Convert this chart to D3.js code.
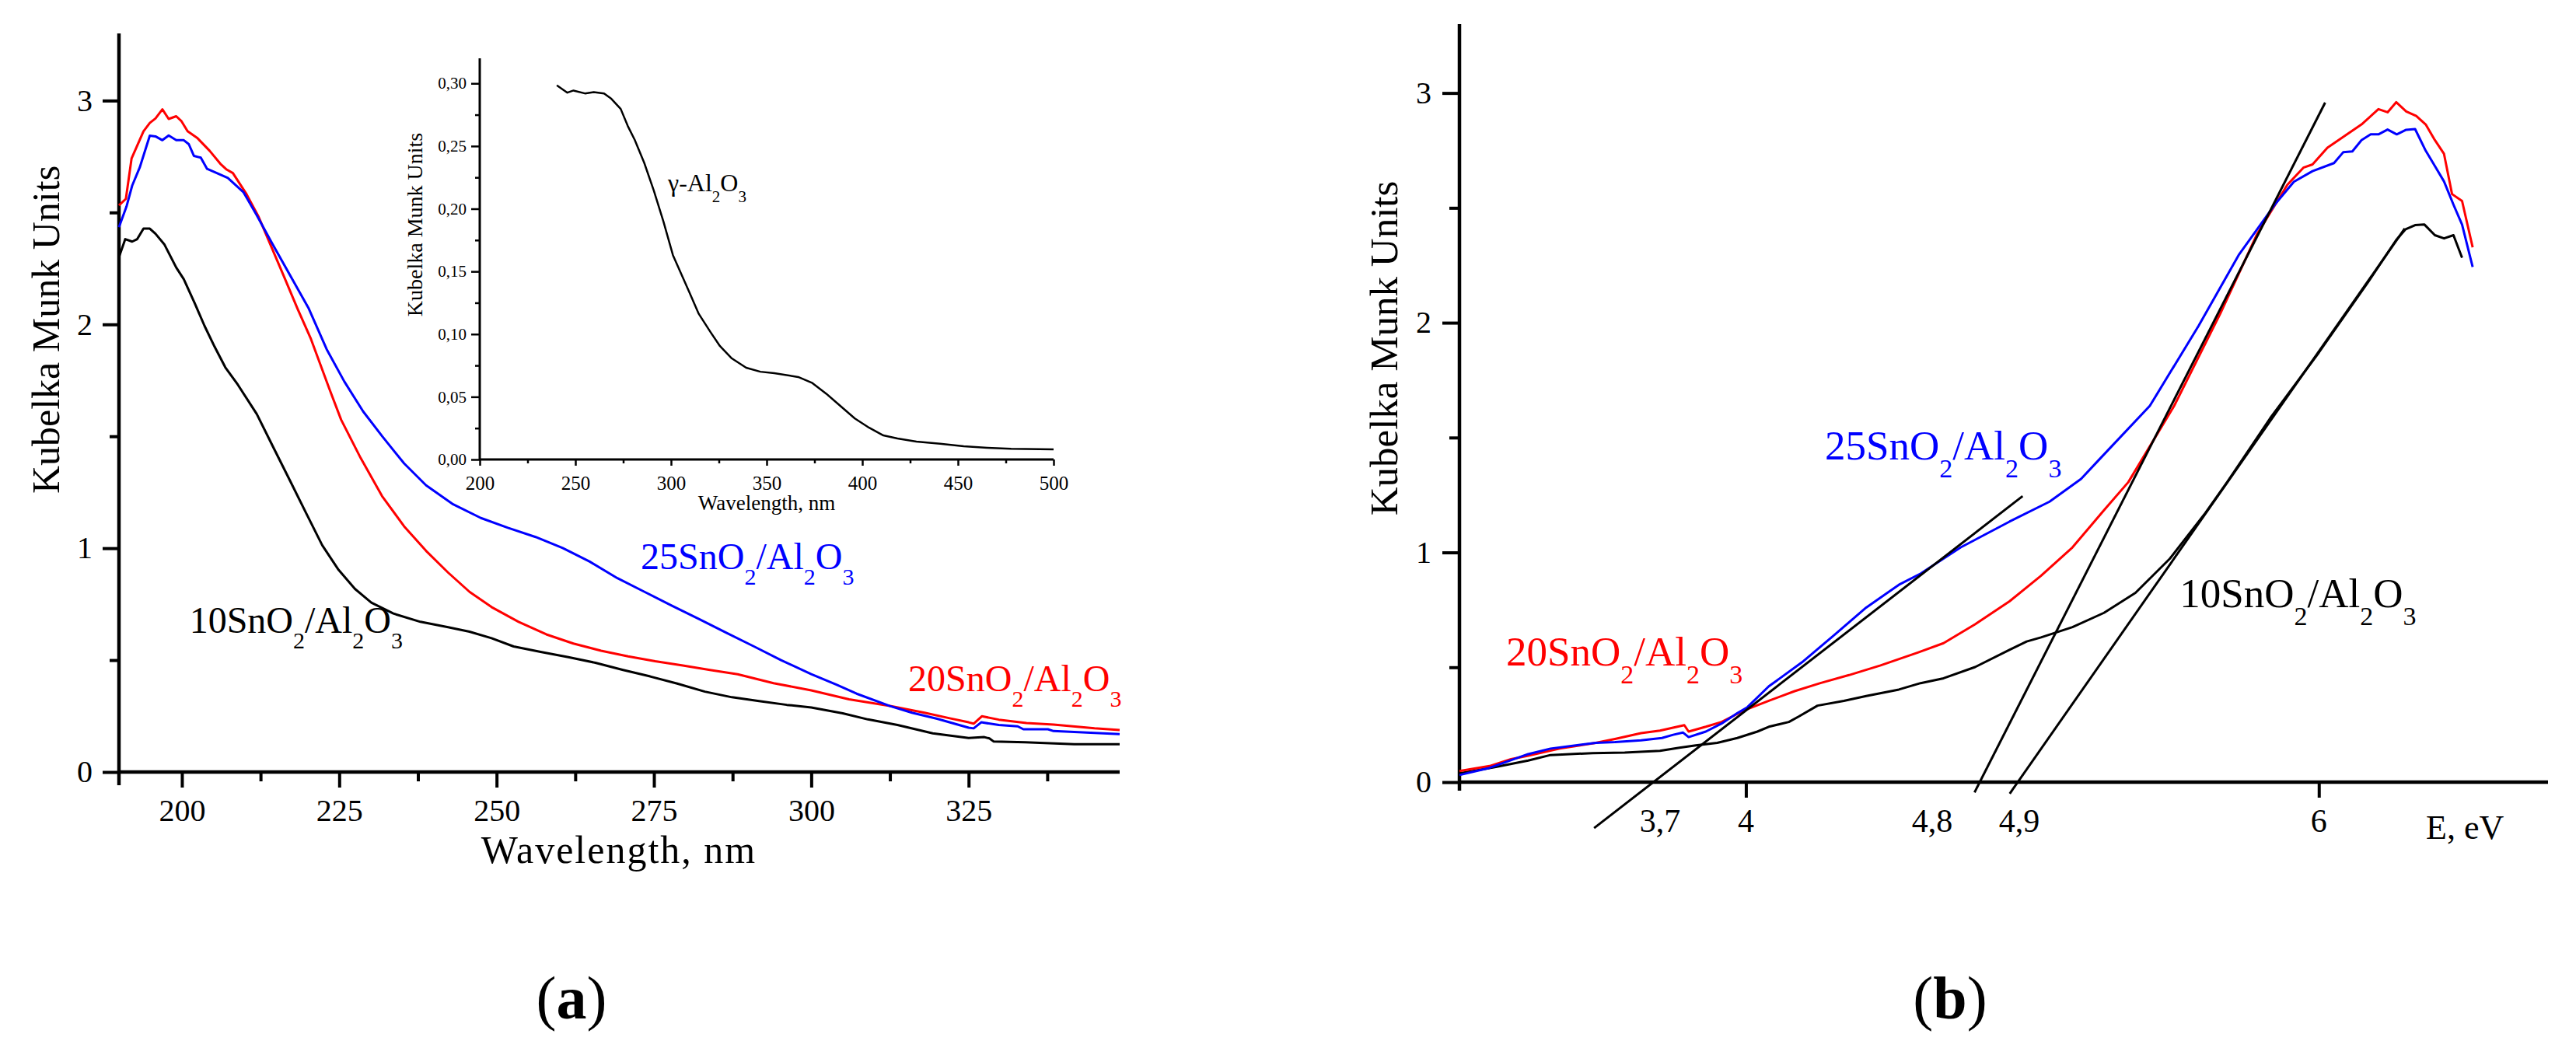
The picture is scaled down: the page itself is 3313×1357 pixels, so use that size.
<!DOCTYPE html>
<html><head><meta charset="utf-8">
<script src="https://cdn.jsdelivr.net/npm/d3@7"></script>
<style>
html,body{margin:0;padding:0;background:#fff;}
svg{display:block;}
text{font-family:"Liberation Serif","Times New Roman",serif;fill:#000;}
</style></head>
<body>
<script>
// ---------- DATA ----------
// Panel (a): Kubelka-Munk vs wavelength (nm)
const wlTicksA = [200, 225, 250, 275, 300, 325];
const kmTicks = [0, 1, 2, 3];
const seriesA_10 = [[190,2.3],[191,2.381],[192.1,2.37],[192.9,2.381],[193.9,2.428],[194.9,2.428],[195.8,2.405],[197.2,2.358],[199.1,2.254],[200.3,2.202],[202,2.097],[203.6,1.993],[205.2,1.9],[206.9,1.808],[208.9,1.73],[211.9,1.599],[214.5,1.452],[217.1,1.306],[219.7,1.159],[222.3,1.013],[224.9,0.903],[227.5,0.818],[230.1,0.757],[233.6,0.708],[237.9,0.671],[242.3,0.647],[245.7,0.627],[249.2,0.598],[252.7,0.561],[257,0.537],[261.4,0.513],[265.7,0.488],[270.1,0.456],[274.4,0.427],[278.7,0.395],[283.1,0.359],[287.4,0.334],[291.7,0.317],[296.1,0.3],[300,0.288],[305,0.262],[309,0.235],[313.7,0.21],[319.3,0.173],[325,0.152],[327.5,0.156],[328.3,0.15],[329,0.136],[334,0.133],[341.8,0.124],[349,0.124]];
const seriesA_20 = [[190,2.532],[191.1,2.561],[192,2.741],[193.9,2.863],[194.9,2.9],[195.8,2.92],[196.9,2.961],[197.9,2.918],[199.1,2.93],[199.9,2.909],[200.9,2.863],[202.4,2.834],[204.4,2.776],[206.1,2.718],[207.1,2.692],[208.1,2.676],[210.2,2.585],[212.2,2.48],[214.3,2.341],[216.4,2.202],[218.4,2.068],[220.5,1.935],[223.4,1.714],[225.3,1.574],[228.4,1.403],[231.8,1.233],[235.3,1.098],[238.8,0.988],[242.3,0.891],[245.7,0.805],[249.2,0.737],[253.5,0.671],[257.9,0.615],[262.2,0.574],[266.6,0.542],[270.9,0.517],[275.2,0.495],[279.6,0.476],[283.9,0.456],[288.3,0.437],[294,0.397],[300,0.365],[306,0.325],[312.5,0.295],[318,0.265],[322,0.24],[325,0.222],[325.8,0.216],[327.1,0.249],[329.8,0.234],[334.2,0.219],[338.5,0.212],[345,0.195],[349,0.188]];
const seriesA_25 = [[190,2.434],[191.2,2.527],[192.1,2.62],[193.3,2.701],[194.9,2.843],[195.8,2.84],[196.9,2.823],[197.9,2.844],[199.1,2.823],[200.3,2.823],[201.1,2.805],[201.9,2.753],[203,2.745],[204,2.695],[205.2,2.68],[207.3,2.654],[209.8,2.59],[211.8,2.492],[214.3,2.364],[217.2,2.219],[220.1,2.074],[223,1.889],[225.8,1.745],[228.8,1.611],[231.8,1.501],[235.3,1.379],[238.8,1.281],[243.1,1.196],[247.5,1.135],[251.8,1.091],[256.2,1.05],[260.5,1.001],[264.8,0.94],[269.2,0.866],[273.5,0.805],[277.8,0.744],[282.2,0.683],[286.5,0.622],[290.9,0.561],[295.2,0.5],[300,0.437],[304,0.39],[307.2,0.35],[312.5,0.295],[316,0.265],[320,0.238],[325,0.198],[325.8,0.195],[327,0.222],[329.8,0.21],[332.8,0.204],[333.7,0.191],[337.6,0.191],[338.5,0.183],[349,0.169]];

// Inset: gamma-Al2O3
const wlTicksInset = [200, 250, 300, 350, 400, 450, 500];
const kmTicksInset = [0, 0.05, 0.10, 0.15, 0.20, 0.25, 0.30];
const seriesInset = [[240.3,0.2985],[245.8,0.2926],[249,0.2943],[255,0.292],[259.6,0.293],[265,0.292],[268.8,0.2877],[273.7,0.2796],[277.4,0.266],[281,0.255],[286,0.2366],[291,0.2145],[296,0.19],[301,0.163],[306,0.1457],[309.6,0.1334],[314.5,0.1162],[320.7,0.1015],[325.6,0.0904],[331.8,0.0806],[339.3,0.0732],[346.7,0.07],[354,0.0688],[366.5,0.0658],[373.9,0.061],[381.3,0.0523],[388.7,0.0425],[396.1,0.0327],[403.6,0.0253],[411,0.0192],[418.4,0.0167],[428.3,0.0143],[440.7,0.0125],[453,0.0106],[465.4,0.0093],[477.8,0.0086],[500,0.0081]];

// Panel (b): Kubelka-Munk vs photon energy (eV)
const seriesB_10 = [[3.0,0.038],[3.127,0.066],[3.24,0.094],[3.318,0.118],[3.386,0.122],[3.465,0.126],[3.577,0.129],[3.70,0.136],[3.768,0.15],[3.825,0.16],[3.9,0.171],[3.97,0.192],[4.04,0.22],[4.08,0.241],[4.15,0.262],[4.185,0.286],[4.25,0.333],[4.342,0.354],[4.42,0.375],[4.534,0.403],[4.61,0.431],[4.69,0.452],[4.8,0.501],[4.92,0.576],[4.98,0.612],[5.03,0.63],[5.14,0.675],[5.25,0.737],[5.36,0.824],[5.48,0.973],[5.6,1.165],[5.68,1.306],[5.83,1.584],[6.0,1.87],[6.17,2.173],[6.27,2.36],[6.303,2.407],[6.336,2.425],[6.368,2.428],[6.405,2.381],[6.437,2.367],[6.47,2.381],[6.5,2.283]];
const seriesB_20 = [[3.0,0.048],[3.105,0.07],[3.18,0.1],[3.24,0.115],[3.35,0.146],[3.476,0.171],[3.543,0.188],[3.634,0.213],[3.70,0.224],[3.785,0.248],[3.80,0.22],[3.86,0.241],[3.915,0.262],[3.97,0.297],[4.005,0.318],[4.08,0.354],[4.17,0.396],[4.26,0.431],[4.36,0.466],[4.47,0.508],[4.6,0.564],[4.69,0.605],[4.8,0.687],[4.92,0.787],[5.03,0.898],[5.14,1.022],[5.25,1.184],[5.335,1.306],[5.495,1.638],[5.656,2.04],[5.785,2.387],[5.89,2.6],[5.946,2.675],[5.978,2.689],[6.03,2.762],[6.149,2.863],[6.208,2.93],[6.24,2.916],[6.27,2.96],[6.305,2.92],[6.34,2.9],[6.373,2.863],[6.405,2.795],[6.437,2.735],[6.465,2.56],[6.5,2.53],[6.537,2.328]];
const seriesB_25 = [[3.0,0.031],[3.105,0.062],[3.24,0.122],[3.318,0.146],[3.476,0.171],[3.543,0.174],[3.634,0.182],[3.707,0.192],[3.746,0.206],[3.78,0.216],[3.80,0.196],[3.86,0.22],[3.915,0.255],[3.97,0.3],[4.005,0.326],[4.08,0.417],[4.196,0.522],[4.309,0.641],[4.42,0.76],[4.534,0.859],[4.61,0.908],[4.75,1.022],[4.92,1.134],[5.06,1.221],[5.17,1.32],[5.23,1.40],[5.41,1.638],[5.58,1.986],[5.72,2.294],[5.85,2.52],[5.913,2.614],[5.978,2.66],[6.053,2.695],[6.085,2.742],[6.117,2.746],[6.149,2.795],[6.181,2.82],[6.208,2.82],[6.24,2.841],[6.272,2.82],[6.305,2.84],[6.336,2.843],[6.373,2.749],[6.405,2.682],[6.437,2.615],[6.47,2.514],[6.5,2.427],[6.537,2.243]];
// Tangent (band-gap) lines: [E, KM] end points
const tangent37 = [[3.47,-0.2],[4.966,1.245]];
const tangent48 = [[4.798,-0.045],[6.022,2.958]];
const tangent49 = [[4.921,-0.05],[6.30,2.41]];
const energyTickLabels = [["3,7",3.7],["4",4],["4,8",4.65],["4,9",4.954],["6",6]];

// ---------- DRAWING ----------
const W = 3313, H = 1357;
const svg = d3.select("body").append("svg").attr("width", W).attr("height", H);
svg.append("rect").attr("width", W).attr("height", H).attr("fill", "#fff");

function styleAxis(g, tickW, fontSize, family) {
  g.select(".domain").remove();
  g.selectAll(".tick line").attr("stroke", "#000").attr("stroke-width", tickW);
  g.selectAll(".tick text").attr("font-size", fontSize).attr("fill", "#000")
    .attr("font-family", family || "'Liberation Serif', serif");
}
function chem(g, x, y, prefix, size, subSize, shift, color) {
  const t = g.append("text").attr("x", x).attr("y", y).attr("font-size", size).attr("fill", color).style("fill", color);
  const parts = [[prefix + "SnO", 0], ["2", 1], ["/Al", 0], ["2", 1], ["O", 0], ["3", 1]];
  let cur = 0;
  parts.forEach(([s, sub]) => {
    const target = sub ? shift : 0;
    t.append("tspan").attr("dy", target - cur).attr("font-size", sub ? subSize : size).text(s);
    cur = target;
  });
  return t;
}

// ===== Panel (a) =====
const xA = d3.scaleLinear([190, 349], [153, 1440]);
const yA = d3.scaleLinear([0, 3.3], [993, 43]);
const gA = svg.append("g");
// axis lines
gA.append("line").attr("x1", xA(190)).attr("x2", xA(190)).attr("y1", yA(3.3)).attr("y2", yA(0) + 17).attr("stroke", "#000").attr("stroke-width", 4.5);
gA.append("line").attr("x1", xA(190)).attr("x2", xA(349)).attr("y1", yA(0)).attr("y2", yA(0)).attr("stroke", "#000").attr("stroke-width", 4.5);
styleAxis(gA.append("g").attr("transform", `translate(${xA(190)},0)`)
  .call(d3.axisLeft(yA).tickValues(kmTicks).tickSize(21).tickPadding(13).tickFormat(d3.format("d"))), 4, 40);
styleAxis(gA.append("g").attr("transform", `translate(${xA(190)},0)`)
  .call(d3.axisLeft(yA).tickValues([0.5, 1.5, 2.5]).tickSize(12).tickFormat("")), 4, 40);
styleAxis(gA.append("g").attr("transform", `translate(0,${yA(0)})`)
  .call(d3.axisBottom(xA).tickValues(wlTicksA).tickSize(20).tickPadding(15).tickFormat(d3.format("d"))), 4, 40);
styleAxis(gA.append("g").attr("transform", `translate(0,${yA(0)})`)
  .call(d3.axisBottom(xA).tickValues([212.5, 237.5, 262.5, 287.5, 312.5, 337.5]).tickSize(12).tickFormat("")), 4, 40);

const lineA = d3.line().x(d => xA(d[0])).y(d => yA(d[1]));
[[seriesA_10, "#000"], [seriesA_20, "#ff0000"], [seriesA_25, "#0000ff"]].forEach(([s, c]) => {
  gA.append("path").datum(s).attr("d", lineA).attr("fill", "none").attr("stroke", c)
    .attr("stroke-width", 3).attr("stroke-linejoin", "round");
});
gA.append("text").attr("transform", `translate(76,424) rotate(-90)`).attr("text-anchor", "middle")
  .attr("font-size", 50).text("Kubelka Munk Units");
gA.append("text").attr("x", 796).attr("y", 1110).attr("text-anchor", "middle")
  .attr("font-size", 50).attr("letter-spacing", 2).text("Wavelength, nm");
chem(gA, xA(201.2), yA(0.623), "10", 48, 30, 20, "#000");
chem(gA, xA(272.9), yA(0.908), "25", 48, 30, 20, "#0000ff");
chem(gA, xA(315.4), yA(0.361), "20", 48, 30, 20, "#ff0000");

// ===== Inset =====
const xI = d3.scaleLinear([200, 500], [617, 1355]);
const yI = d3.scaleLinear([0, 0.32], [591, 75]);
const gI = svg.append("g");
gI.append("line").attr("x1", xI(200)).attr("x2", xI(200)).attr("y1", yI(0.32)).attr("y2", yI(0)).attr("stroke", "#000").attr("stroke-width", 3);
gI.append("line").attr("x1", xI(200)).attr("x2", xI(500)).attr("y1", yI(0)).attr("y2", yI(0)).attr("stroke", "#000").attr("stroke-width", 3);
styleAxis(gI.append("g").attr("transform", `translate(${xI(200)},0)`)
  .call(d3.axisLeft(yI).tickValues(kmTicksInset).tickSize(11).tickPadding(6).tickFormat(d => d3.format(".2f")(d).replace(".", ","))), 2.5, 21);
styleAxis(gI.append("g").attr("transform", `translate(${xI(200)},0)`)
  .call(d3.axisLeft(yI).tickValues([0.025, 0.075, 0.125, 0.175, 0.225, 0.275]).tickSize(6).tickFormat("")), 2.5, 21);
styleAxis(gI.append("g").attr("transform", `translate(0,${yI(0)})`)
  .call(d3.axisBottom(xI).tickValues(wlTicksInset).tickSize(8).tickPadding(13).tickFormat(d3.format("d"))), 2.5, 25, "'Liberation Sans', Arial, sans-serif");
styleAxis(gI.append("g").attr("transform", `translate(0,${yI(0)})`)
  .call(d3.axisBottom(xI).tickValues([225, 275, 325, 375, 425, 475]).tickSize(5).tickFormat("")), 2.5, 25);
gI.append("path").datum(seriesInset)
  .attr("d", d3.line().x(d => xI(d[0])).y(d => yI(d[1])))
  .attr("fill", "none").attr("stroke", "#000").attr("stroke-width", 2.5).attr("stroke-linejoin", "round");
gI.append("text").attr("transform", `translate(543,289) rotate(-90)`).attr("text-anchor", "middle")
  .attr("font-size", 28).text("Kubelka Munk Units");
gI.append("text").attr("x", 986).attr("y", 656).attr("text-anchor", "middle")
  .attr("font-size", 27).text("Wavelength, nm");
{
  const t = gI.append("text").attr("x", xI(298.4)).attr("y", yI(0.214)).attr("font-size", 32);
  t.append("tspan").text("\u03B3-Al");
  t.append("tspan").attr("dy", 14).attr("font-size", 21).text("2");
  t.append("tspan").attr("dy", -14).text("O");
  t.append("tspan").attr("dy", 14).attr("font-size", 21).text("3");
}

// ===== Panel (b) =====
const xB = d3.scaleLinear([3, 6.8], [1877, 3277]);
const yB = d3.scaleLinear([0, 3.3], [1006, 31]);
const gB = svg.append("g");
gB.append("line").attr("x1", xB(3)).attr("x2", xB(3)).attr("y1", yB(3.3)).attr("y2", yB(0) + 11).attr("stroke", "#000").attr("stroke-width", 4.5);
gB.append("line").attr("x1", xB(3)).attr("x2", xB(6.8)).attr("y1", yB(0)).attr("y2", yB(0)).attr("stroke", "#000").attr("stroke-width", 4.5);
styleAxis(gB.append("g").attr("transform", `translate(${xB(3)},0)`)
  .call(d3.axisLeft(yB).tickValues(kmTicks).tickSize(22).tickPadding(14).tickFormat(d3.format("d"))), 4, 40);
styleAxis(gB.append("g").attr("transform", `translate(${xB(3)},0)`)
  .call(d3.axisLeft(yB).tickValues([0.5, 1.5, 2.5]).tickSize(13).tickFormat("")), 4, 40);
styleAxis(gB.append("g").attr("transform", `translate(0,${yB(0)})`)
  .call(d3.axisBottom(xB).tickValues([4, 6]).tickSize(20).tickFormat("")), 4, 40);

const lineB = d3.line().x(d => xB(d[0])).y(d => yB(d[1]));
[[seriesB_10, "#000"], [seriesB_20, "#ff0000"], [seriesB_25, "#0000ff"]].forEach(([s, c]) => {
  gB.append("path").datum(s).attr("d", lineB).attr("fill", "none").attr("stroke", c)
    .attr("stroke-width", 3).attr("stroke-linejoin", "round");
});
[tangent37, tangent48, tangent49].forEach(s => {
  gB.append("path").datum(s).attr("d", lineB).attr("fill", "none").attr("stroke", "#000").attr("stroke-width", 3);
});
gB.selectAll("text.elab").data(energyTickLabels).join("text").attr("class", "elab")
  .attr("x", d => xB(d[1])).attr("y", 1070).attr("text-anchor", "middle").attr("font-size", 42).text(d => d[0]);
gB.append("text").attr("x", xB(6.374)).attr("y", 1079).attr("font-size", 44).text("E, eV");
gB.append("text").attr("transform", `translate(1797,448) rotate(-90)`).attr("text-anchor", "middle")
  .attr("font-size", 51).text("Kubelka Munk Units");
chem(gB, xB(3.163), yB(0.508), "20", 53, 34, 23, "#ff0000");
chem(gB, xB(4.276), yB(1.405), "25", 53, 34, 23, "#0000ff");
chem(gB, xB(5.514), yB(0.762), "10", 53, 34, 23, "#000");

// ===== Captions =====
[["a", 735], ["b", 2508]].forEach(([l, x]) => {
  const t = svg.append("text").attr("x", x).attr("y", 1310).attr("text-anchor", "middle").attr("font-size", 78);
  t.append("tspan").text("(");
  t.append("tspan").attr("font-weight", "bold").text(l);
  t.append("tspan").text(")");
});
</script>
</body></html>
